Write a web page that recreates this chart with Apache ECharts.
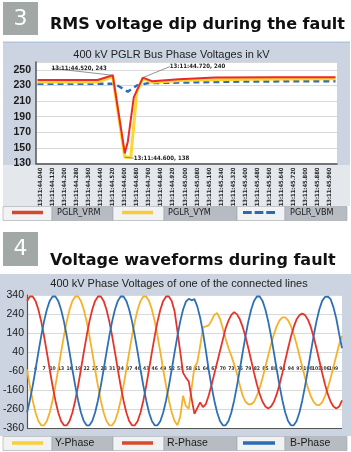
<!DOCTYPE html>
<html><head><meta charset="utf-8">
<script src="https://cdn.jsdelivr.net/npm/echarts@6/dist/echarts.min.js"></script>
<style>html,body{margin:0;padding:0;background:#fff}#c{width:351px;height:452px}</style>
</head><body><div id="c"></div><script>
// ---------- Chart 3 : RMS voltages ----------
const rmsCategories = [];
for (let i = 0; i < 100; i++) {
  const ms = 44020 + 20 * i;
  rmsCategories.push('13:11:' + Math.floor(ms / 1000) + '.' + String(ms % 1000).padStart(3, '0'));
}
const vrmTimes  = ['13:11:44.020','13:11:44.420','13:11:44.520','13:11:44.600','13:11:44.620','13:11:44.660','13:11:44.720','13:11:44.780','13:11:44.960','13:11:45.200','13:11:45.600','13:11:46.000'];
const vrmValues = [237, 237, 243, 143, 158, 215, 240, 235.5, 238, 240, 240.5, 240.5];
const vymTimes  = ['13:11:44.020','13:11:44.420','13:11:44.520','13:11:44.600','13:11:44.640','13:11:44.680','13:11:44.720','13:11:44.780','13:11:45.000','13:11:45.400','13:11:46.000'];
const vymValues = [234.5, 234.5, 241, 138, 138, 222, 239, 234, 236.5, 238, 238.5];
const vbmTimes  = ['13:11:44.020','13:11:44.520','13:11:44.560','13:11:44.620','13:11:44.680','13:11:44.760','13:11:45.400','13:11:46.000'];
const vbmValues = [232, 232, 229, 222, 230, 233, 235, 235.5];
const vrmAnnotated = ['13:11:44.520', '13:11:44.720'];
const vymAnnotated = ['13:11:44.600'];

// ---------- Chart 4 : waveforms ----------
const waveCategories = [];
for (let i = 1; i <= 112; i++) waveCategories.push(String(i));
const yPhase = [-52,-138,-215,-278,-323,-346,-346,-323,-278,-215,-138,-52,38,124,201,264,309,332,332,309,264,201,124,38,
  -52,-138,-215,-278,-323,-346,-346,-323,-278,-215,-138,-52,38,124,201,264,309,332,332,309,264,201,124,38,
  -52,-138,-215,-278,-323,-346,-300,-190,-245,-258,-150,-40,-15,70,170,175,180,205,235,245,215,165,110,60,
  20,-25,-75,-135,-190,-222,-235,-235,-222,-190,-149,-97,-38,22,81,133,176,206,222,222,206,176,133,81,
  22,-38,-97,-149,-192,-222,-238,-240,-225,-192,-149,-97,-38,22,81,125];
const rPhase = [309,332,332,309,264,201,124,38,-52,-138,-215,-278,-323,-346,-346,-323,-278,-215,-138,-52,38,124,201,264,
  309,332,332,309,264,201,124,38,-52,-138,-215,-278,-323,-346,-346,-323,-278,-215,-138,-52,38,124,201,264,
  309,332,332,309,255,150,40,-70,-95,-115,-205,-285,-255,-225,-250,-235,-190,-135,-75,-15,45,105,165,205,
  235,250,238,212,172,120,60,-5,-70,-130,-182,-222,-247,-257,-247,-222,-182,-130,-70,-5,60,120,172,212,
  234,242,234,210,172,120,60,-5,-70,-130,-182,-222,-247,-257,-247,-215];
const bPhase = [-278,-215,-138,-52,38,124,201,264,309,332,332,309,264,201,124,38,-52,-138,-215,-278,-323,-346,-346,-323,
  -278,-215,-138,-52,38,124,201,264,309,332,332,309,264,201,124,38,-52,-138,-215,-278,-323,-346,-346,-323,
  -278,-215,-138,-52,38,124,201,264,305,320,312,318,280,222,145,50,-52,-138,-215,-278,-323,-346,-346,-323,
  -278,-215,-138,-52,38,124,201,264,309,332,332,309,264,201,124,38,-52,-138,-215,-278,-323,-346,-346,-323,
  -278,-215,-138,-52,38,124,201,264,309,330,332,318,275,215,135,60];
const waveYMin = -360, waveYMax = 340;

const NARROW = '"Liberation Sans Narrow","DejaVu Sans Condensed","Liberation Sans",sans-serif';
const SANS = '"Liberation Sans",Arial,sans-serif';
const C_RED = '#ea2a2a', C_YEL = '#ffd62e', C_BLU = '#2d6fb6';
const W_RED = '#e5352b', W_YEL = '#f4b22c', W_BLU = '#2f70b4';

function pairs(ts, vs, annotated) {
  return ts.map((t, i) => {
    const item = { value: [t, vs[i]] };
    if (annotated.indexOf(t) >= 0) item.label = { show: true };
    return item;
  });
}

const annotLabel = {
  show: false, fontSize: 6, fontWeight: 'bold', fontFamily: NARROW, color: '#222',
  formatter: p => p.value[0] + ', ' + p.value[1]
};

const legendText = (pad) => ({ fontSize: 9, fontFamily: NARROW, color: '#1a1a1a', padding: [0, 0, 0, pad] });
const legendText2 = (pad) => ({ fontSize: 10.5, fontFamily: SANS, color: '#1a1a1a', padding: [0, 0, 0, pad] });
const DASH_ICON = 'path://M0,0H9V3H0Z M12,0H21V3H12Z M24,0H33V3H24Z';

function cells(y) {
  const xs = [[3, 52, 0], [52, 113, 1], [113, 164, 0], [164, 237, 1], [237, 285, 0], [285, 347, 1]];
  return xs.map(c => ({
    type: 'rect', z: -5,
    shape: { x: c[0], y: y, width: c[1] - c[0], height: 14 },
    style: { fill: c[2] ? '#b7bcc3' : '#f1f2f4', stroke: '#9ea4ab', lineWidth: 0.6 }
  }));
}

// darker line for the bottom (min) grid line of the waveform chart
const waveSplitColors = ['#555555', '#d9d9d9', '#d9d9d9', '#d9d9d9', '#d9d9d9', '#d9d9d9', '#d9d9d9', '#d9d9d9'];
const WAVE_GRID = { left: 24.5, top: 295, width: 317.5, height: 133 };
// category labels sit on the value-0 line: shift the axis up from the grid bottom
const zeroOffset = -WAVE_GRID.height * (0 - waveYMin) / (waveYMax - waveYMin);

const option = {
  animation: false,
  backgroundColor: '#ffffff',
  graphic: [
    { type: 'rect', z: -10, shape: { x: 3, y: 2, width: 35, height: 33 }, style: { fill: '#a1a8a5' } },
    { type: 'text', z: 5, x: 20.5, y: 19, style: { text: '3', fill: '#ffffff', fontSize: 22, fontFamily: '"DejaVu Sans"', textAlign: 'center', textVerticalAlign: 'middle' } },
    { type: 'rect', z: -10, shape: { x: 3, y: 41.5, width: 347, height: 1.5 }, style: { fill: '#b3c5db' } },
    { type: 'rect', z: -10, shape: { x: 3, y: 43, width: 347, height: 122 }, style: { fill: '#cbd4e0' } },
    { type: 'rect', z: -10, shape: { x: 3, y: 165, width: 347, height: 41 }, style: { fill: '#e4e8ed' } },
    ...cells(206.5),
    { type: 'rect', z: -10, shape: { x: 3, y: 232, width: 35, height: 34 }, style: { fill: '#a1a8a5' } },
    { type: 'text', z: 5, x: 20.5, y: 249, style: { text: '4', fill: '#ffffff', fontSize: 22, fontFamily: '"DejaVu Sans"', textAlign: 'center', textVerticalAlign: 'middle' } },
    { type: 'rect', z: -10, shape: { x: 0, y: 274, width: 351, height: 162 }, style: { fill: '#cbd4e0' } },
    ...cells(436.5)
  ],
  title: [
    { text: 'RMS voltage dip during the fault', left: 50, top: 17, padding: 0,
      textStyle: { fontFamily: '"DejaVu Sans"', fontWeight: 'bold', fontSize: 16, color: '#111' } },
    { text: '400 kV PGLR Bus Phase Voltages in kV', left: 171.5, top: 49, textAlign: 'center', padding: 0,
      textStyle: { fontFamily: SANS, fontWeight: 'normal', fontSize: 11, color: '#222' } },
    { text: 'Voltage waveforms during fault', left: 50, top: 253, padding: 0,
      textStyle: { fontFamily: '"DejaVu Sans"', fontWeight: 'bold', fontSize: 16, color: '#111' } },
    { text: '400 kV Phase Voltages of one of the connected lines', left: 179, top: 278, textAlign: 'center', padding: 0,
      textStyle: { fontFamily: SANS, fontWeight: 'normal', fontSize: 11, color: '#222' } }
  ],
  legend: [
    { data: [{ name: 'PGLR_VRM', itemStyle: { color: '#d4492a' } }], left: 12, top: 208, padding: 0, itemWidth: 31, itemHeight: 3.5, icon: 'rect', selectedMode: false, textStyle: legendText(9) },
    { data: [{ name: 'PGLR_VYM', itemStyle: { color: '#f7cb3c' } }], left: 122, top: 208, padding: 0, itemWidth: 31, itemHeight: 3.5, icon: 'rect', selectedMode: false, textStyle: legendText(10) },
    { data: [{ name: 'PGLR_VBM', itemStyle: { color: '#2a6bb0' } }], left: 243, top: 208, padding: 0, itemWidth: 32, itemHeight: 3.5, icon: DASH_ICON, selectedMode: false, textStyle: legendText(10) },
    { data: [{ name: 'Y-Phase', itemStyle: { color: '#fbcf3a' } }], left: 12, top: 437.5, padding: 0, itemWidth: 31, itemHeight: 3.5, icon: 'rect', selectedMode: false, textStyle: legendText2(7) },
    { data: [{ name: 'R-Phase', itemStyle: { color: '#d94a2a' } }], left: 122, top: 437.5, padding: 0, itemWidth: 31, itemHeight: 3.5, icon: 'rect', selectedMode: false, textStyle: legendText2(9) },
    { data: [{ name: 'B-Phase', itemStyle: { color: '#2d6cb0' } }], left: 243, top: 437.5, padding: 0, itemWidth: 32, itemHeight: 3.5, icon: 'rect', selectedMode: false, textStyle: legendText2(10) }
  ],
  grid: [
    { left: 36, top: 62, width: 301, height: 101.5, show: true, backgroundColor: '#ffffff', borderWidth: 0 },
    Object.assign({ show: true, backgroundColor: '#ffffff', borderWidth: 0 }, WAVE_GRID)
  ],
  xAxis: [
    { type: 'category', gridIndex: 0, data: rmsCategories, boundaryGap: true,
      axisLine: { lineStyle: { color: '#555', width: 1.5 } }, axisTick: { show: false },
      axisLabel: { interval: (i) => i % 4 === 1, rotate: 90, fontSize: 5.8, fontWeight: 'bold', fontFamily: NARROW, color: '#222', margin: 4 } },
    { type: 'category', gridIndex: 1, data: waveCategories, boundaryGap: false, offset: zeroOffset,
      axisLine: { show: false, onZero: false }, axisTick: { show: false },
      axisLabel: { interval: 2, showMinLabel: false, fontSize: 5, fontWeight: 'bold', fontFamily: NARROW, color: '#333', margin: 7 } }
  ],
  yAxis: [
    { type: 'value', gridIndex: 0, min: 130, max: 260, interval: 20,
      axisLine: { show: true, lineStyle: { color: '#555', width: 1.5 } }, axisTick: { show: false },
      axisLabel: { showMaxLabel: false, fontSize: 10.5, fontWeight: 'bold', fontFamily: SANS, color: '#1a1a1a', margin: 5 },
      splitLine: { lineStyle: { color: '#d9d9d9', width: 1 } } },
    { type: 'value', gridIndex: 1, min: waveYMin, max: waveYMax, interval: 100,
      axisLine: { show: true, lineStyle: { color: '#555', width: 1.2 } }, axisTick: { show: false },
      axisLabel: { fontSize: 10.5, fontFamily: SANS, color: '#1a1a1a', margin: 3 },
      splitLine: { lineStyle: { color: waveSplitColors, width: 1 } } }
  ],
  series: [
    { name: 'PGLR_VYM', type: 'line', xAxisIndex: 0, yAxisIndex: 0, z: 3,
      data: pairs(vymTimes, vymValues, vymAnnotated),
      symbol: 'circle', symbolSize: 0, showAllSymbol: true,
      itemStyle: { color: C_YEL }, lineStyle: { color: C_YEL, width: 3 },
      label: annotLabel, labelLine: { show: true, lineStyle: { color: '#777', width: 0.8 } },
      labelLayout: p => ({ x: p.rect.x + 9, y: p.rect.y + 1, align: 'left', verticalAlign: 'middle' }) },
    { name: 'PGLR_VRM', type: 'line', xAxisIndex: 0, yAxisIndex: 0, z: 4,
      data: pairs(vrmTimes, vrmValues, vrmAnnotated),
      symbol: 'circle', symbolSize: 0, showAllSymbol: true,
      itemStyle: { color: C_RED }, lineStyle: { color: C_RED, width: 2 },
      label: annotLabel, labelLine: { show: true, lineStyle: { color: '#777', width: 0.8 } },
      labelLayout: p => (p.dataIndex === 2
        ? { x: p.rect.x - 6, y: p.rect.y - 7, align: 'right', verticalAlign: 'middle' }
        : { x: p.rect.x + 27, y: p.rect.y - 11, align: 'left', verticalAlign: 'middle' }) },
    { name: 'PGLR_VBM', type: 'line', xAxisIndex: 0, yAxisIndex: 0, z: 2,
      data: pairs(vbmTimes, vbmValues, []),
      symbol: 'none', itemStyle: { color: C_BLU }, lineStyle: { color: C_BLU, width: 2.5, type: [6, 4] } },
    { name: 'Y-Phase', type: 'line', xAxisIndex: 1, yAxisIndex: 1, data: yPhase, symbol: 'none',
      itemStyle: { color: W_YEL }, lineStyle: { color: W_YEL, width: 1.8 } },
    { name: 'R-Phase', type: 'line', xAxisIndex: 1, yAxisIndex: 1, data: rPhase, symbol: 'none',
      itemStyle: { color: W_RED }, lineStyle: { color: W_RED, width: 1.8 } },
    { name: 'B-Phase', type: 'line', xAxisIndex: 1, yAxisIndex: 1, data: bPhase, symbol: 'none',
      itemStyle: { color: W_BLU }, lineStyle: { color: W_BLU, width: 1.8 } }
  ]
};

const chart = echarts.init(document.getElementById('c'), null, { renderer: 'canvas', width: 351, height: 452 });
chart.setOption(option);
</script></body></html>
